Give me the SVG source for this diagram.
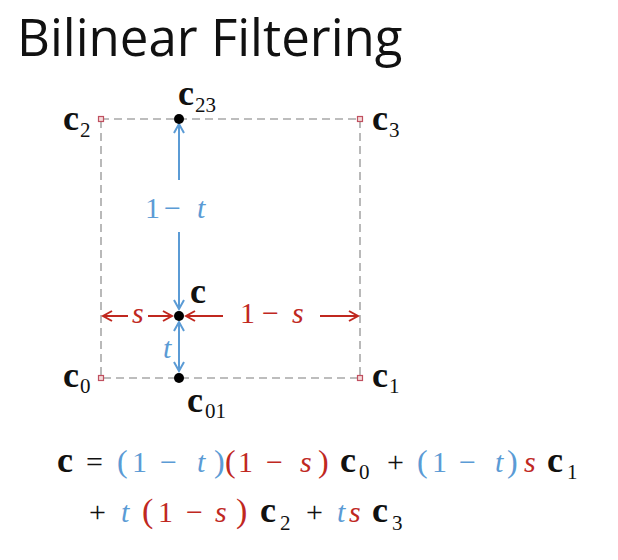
<svg xmlns="http://www.w3.org/2000/svg" width="618" height="560" viewBox="0 0 618 560">
<defs>
  <marker id="ab" viewBox="-11 -7 13 14" refX="0" refY="0" markerWidth="13" markerHeight="14" markerUnits="userSpaceOnUse" orient="auto-start-reverse">
    <path d="M-9,-5 L0,0 L-9,5" fill="none" stroke="#5b9bd5" stroke-width="2"/>
  </marker>
  <marker id="ar" viewBox="-11 -7 13 14" refX="0" refY="0" markerWidth="13" markerHeight="14" markerUnits="userSpaceOnUse" orient="auto-start-reverse">
    <path d="M-9,-5 L0,0 L-9,5" fill="none" stroke="#c0281f" stroke-width="2"/>
  </marker>
</defs>
<rect width="618" height="560" fill="#fff"/>

<text x="17" y="56" font-family="Open Sans, sans-serif" font-size="51" fill="#111">Bilinear Filtering</text>

<g id="frame">
  <rect x="101" y="119" width="259" height="259" fill="none" stroke="#a8a8a8" stroke-width="1.6" stroke-dasharray="8 5"/>
</g>

<g id="connectors">
  <line x1="179" y1="180" x2="179" y2="124" stroke="#5b9bd5" stroke-width="2" marker-end="url(#ab)"/>
  <line x1="179" y1="232" x2="179" y2="309" stroke="#5b9bd5" stroke-width="2" marker-end="url(#ab)"/>
  <line x1="179" y1="322" x2="179" y2="371" stroke="#5b9bd5" stroke-width="2" marker-start="url(#ab)" marker-end="url(#ab)"/>
  <line x1="128" y1="316" x2="103" y2="316" stroke="#c0281f" stroke-width="2" marker-end="url(#ar)"/>
  <line x1="148" y1="316" x2="172" y2="316" stroke="#c0281f" stroke-width="2" marker-end="url(#ar)"/>
  <line x1="223" y1="316" x2="186" y2="316" stroke="#c0281f" stroke-width="2" marker-end="url(#ar)"/>
  <line x1="320" y1="316" x2="358" y2="316" stroke="#c0281f" stroke-width="2" marker-end="url(#ar)"/>
  <text font-family="serif" font-size="30" fill="#5b9bd5" x="145" y="218">1</text>
  <text font-family="serif" font-size="30" fill="#5b9bd5" x="164" y="218">−</text>
  <text font-family="serif" font-size="30" fill="#5b9bd5" font-style="italic" x="197" y="218">t</text>
  <text font-family="serif" font-size="30" fill="#c0281f" font-style="italic" x="132" y="323">s</text>
  <text font-family="serif" font-size="30" fill="#c0281f" x="240" y="323">1</text>
  <text font-family="serif" font-size="30" fill="#c0281f" x="262" y="323">−</text>
  <text font-family="serif" font-size="30" fill="#c0281f" font-style="italic" x="292" y="323">s</text>
  <text font-family="serif" font-size="30" fill="#5b9bd5" font-style="italic" x="163" y="358">t</text>
</g>

<g id="c2">
  <rect x="98.5" y="116.5" width="5" height="5" fill="#f6dada" stroke="#c05060" stroke-width="1.2"/>
  <text font-family="serif" font-size="36" font-weight="bold" fill="#111" x="63" y="130">c</text>
  <text font-family="serif" font-size="21" fill="#111" x="80" y="137">2</text>
</g>
<g id="c3">
  <rect x="357.5" y="116.5" width="5" height="5" fill="#f6dada" stroke="#c05060" stroke-width="1.2"/>
  <text font-family="serif" font-size="36" font-weight="bold" fill="#111" x="372" y="130">c</text>
  <text font-family="serif" font-size="21" fill="#111" x="389" y="137">3</text>
</g>
<g id="c0">
  <rect x="98.5" y="375.5" width="5" height="5" fill="#f6dada" stroke="#c05060" stroke-width="1.2"/>
  <text font-family="serif" font-size="36" font-weight="bold" fill="#111" x="63" y="387">c</text>
  <text font-family="serif" font-size="21" fill="#111" x="80" y="393">0</text>
</g>
<g id="c1">
  <rect x="357.5" y="375.5" width="5" height="5" fill="#f6dada" stroke="#c05060" stroke-width="1.2"/>
  <text font-family="serif" font-size="36" font-weight="bold" fill="#111" x="372" y="387">c</text>
  <text font-family="serif" font-size="21" fill="#111" x="389" y="393">1</text>
</g>
<g id="c23">
  <circle cx="179" cy="119" r="5" fill="#000"/>
  <text font-family="serif" font-size="36" font-weight="bold" fill="#111" x="178" y="105">c</text>
  <text font-family="serif" font-size="21" fill="#111" x="195" y="112">23</text>
</g>
<g id="c01">
  <circle cx="179" cy="378" r="5" fill="#000"/>
  <text font-family="serif" font-size="36" font-weight="bold" fill="#111" x="187" y="412">c</text>
  <text font-family="serif" font-size="21" fill="#111" x="205" y="418">01</text>
</g>
<g id="c">
  <circle cx="179" cy="316" r="5" fill="#000"/>
  <text font-family="serif" font-size="36" font-weight="bold" fill="#111" x="190" y="303">c</text>
</g>

<g id="equation">
  <text font-family="serif" font-size="36" font-weight="bold" fill="#111" x="57" y="472">c</text>
  <text font-family="serif" font-size="30" fill="#111" x="86" y="472">=</text>
  <text font-family="serif" font-size="32" fill="#5b9bd5" x="117" y="472">(</text>
  <text font-family="serif" font-size="30" fill="#5b9bd5" x="132" y="472">1</text>
  <text font-family="serif" font-size="30" fill="#5b9bd5" x="160" y="472">−</text>
  <text font-family="serif" font-size="30" fill="#5b9bd5" font-style="italic" x="197" y="472">t</text>
  <text font-family="serif" font-size="32" fill="#5b9bd5" x="214" y="472">)</text>
  <text font-family="serif" font-size="32" fill="#c0281f" x="225" y="472">(</text>
  <text font-family="serif" font-size="30" fill="#c0281f" x="238" y="472">1</text>
  <text font-family="serif" font-size="30" fill="#c0281f" x="266" y="472">−</text>
  <text font-family="serif" font-size="30" fill="#c0281f" font-style="italic" x="300" y="472">s</text>
  <text font-family="serif" font-size="32" fill="#c0281f" x="318" y="472">)</text>
  <text font-family="serif" font-size="36" font-weight="bold" fill="#111" x="340" y="472">c</text>
  <text font-family="serif" font-size="21" fill="#111" x="359" y="479">0</text>
  <text font-family="serif" font-size="30" fill="#111" x="387" y="472">+</text>
  <text font-family="serif" font-size="32" fill="#5b9bd5" x="417" y="472">(</text>
  <text font-family="serif" font-size="30" fill="#5b9bd5" x="432" y="472">1</text>
  <text font-family="serif" font-size="30" fill="#5b9bd5" x="459" y="472">−</text>
  <text font-family="serif" font-size="30" fill="#5b9bd5" font-style="italic" x="495" y="472">t</text>
  <text font-family="serif" font-size="32" fill="#5b9bd5" x="507" y="472">)</text>
  <text font-family="serif" font-size="30" fill="#c0281f" font-style="italic" x="524" y="472">s</text>
  <text font-family="serif" font-size="36" font-weight="bold" fill="#111" x="547" y="472">c</text>
  <text font-family="serif" font-size="21" fill="#111" x="567" y="479">1</text>

  <text font-family="serif" font-size="30" fill="#111" x="89" y="522">+</text>
  <text font-family="serif" font-size="30" fill="#5b9bd5" font-style="italic" x="121" y="522">t</text>
  <text font-family="serif" font-size="34" fill="#c0281f" x="142" y="522">(</text>
  <text font-family="serif" font-size="30" fill="#c0281f" x="158" y="522">1</text>
  <text font-family="serif" font-size="30" fill="#c0281f" x="186" y="522">−</text>
  <text font-family="serif" font-size="30" fill="#c0281f" font-style="italic" x="215" y="522">s</text>
  <text font-family="serif" font-size="34" fill="#c0281f" x="236" y="522">)</text>
  <text font-family="serif" font-size="36" font-weight="bold" fill="#111" x="260" y="522">c</text>
  <text font-family="serif" font-size="21" fill="#111" x="280" y="530">2</text>
  <text font-family="serif" font-size="30" fill="#111" x="306" y="522">+</text>
  <text font-family="serif" font-size="30" fill="#5b9bd5" font-style="italic" x="337" y="522">t</text>
  <text font-family="serif" font-size="30" fill="#c0281f" font-style="italic" x="349" y="522">s</text>
  <text font-family="serif" font-size="36" font-weight="bold" fill="#111" x="372" y="522">c</text>
  <text font-family="serif" font-size="21" fill="#111" x="392" y="530">3</text>
</g>
</svg>
